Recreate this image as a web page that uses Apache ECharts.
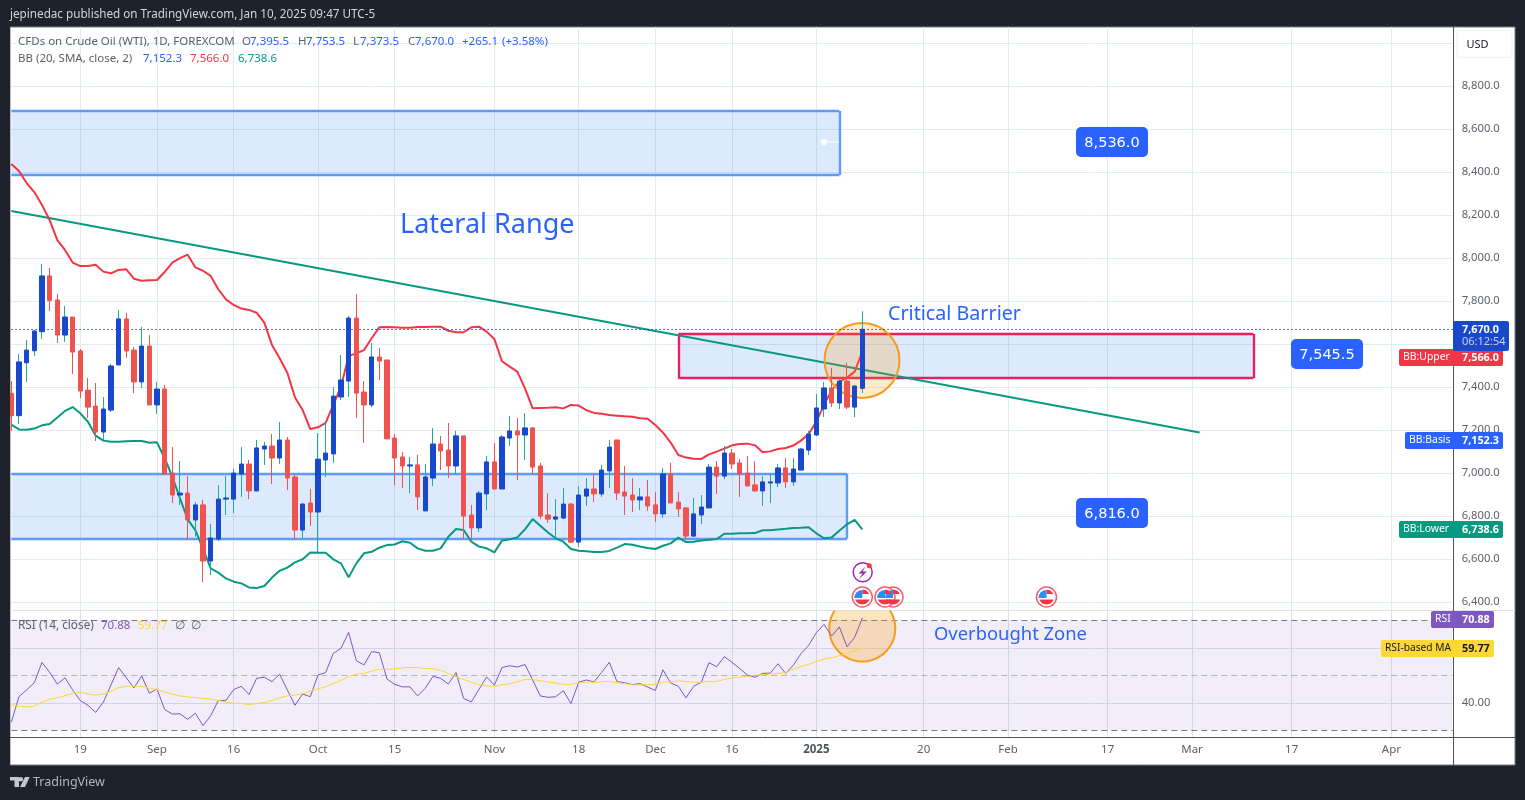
<!DOCTYPE html>
<html>
<head>
<meta charset="utf-8">
<title>WTI</title>
<style>
  html, body { margin: 0; padding: 0; background: #1e222d; }
  #chart { width: 1525px; height: 800px; }
</style>
<script src="https://cdn.jsdelivr.net/npm/echarts@6/dist/echarts.min.js"></script>
</head>
<body>
<div id="chart"></div>
<script>
// daily candles
const opens = [
  7372,7268,7514,7570,7659,7918,7806,7643,7727,7569,
  7387,7313,7192,7294,7504,7718,7573,7425,7592,7318,
  7392,7001,6899,6908,6783,6853,6592,6694,6880,6880,
  6997,7043,6918,7113,7127,7071,7155,6983,6736,6862,
  6820,7062,7090,7355,7429,7722,7378,7318,7541,7527,
  7164,7076,7034,7039,6825,6978,7136,7108,7034,7174,
  6806,6746,6904,7053,6927,7164,7197,7178,7211,7034,
  6806,6787,6792,6857,6680,6894,6927,6904,7011,7155,
  6913,6899,6876,6890,6853,6811,6997,6866,6839,6708,
  6806,6839,7029,6987,7094,7048,7001,6946,6918,6955,
  6955,7025,6960,7015,7108,7178,7299,7397,7327,7429,
  7308,7395.5
];
const closes = [
  7268,7518,7573,7662,7918,7803,7643,7727,7564,7383,
  7308,7192,7299,7499,7718,7569,7425,7592,7318,7392,
  6997,6899,6908,6783,6853,6592,6699,6880,6885,7001,
  7043,6918,7118,7127,7071,7155,6978,6736,6857,6820,
  7066,7094,7359,7434,7722,7373,7318,7541,7522,7160,
  7071,7034,7039,6890,6983,7136,7104,7034,7174,6801,
  6746,6908,7053,6927,7169,7197,7178,7211,7029,6801,
  6787,6797,6857,6680,6899,6927,6904,7015,7122,6908,
  6894,6876,6890,6848,6811,6997,6862,6834,6708,6811,
  6843,7029,6987,7094,7043,6997,6941,6918,6960,6960,
  7025,6960,7020,7113,7183,7304,7397,7327,7429,7308,
  7406,7670
];
const highs = [
  7429,7555,7620,7666,7973,7955,7834,7778,7727,7578,
  7443,7420,7355,7508,7760,7746,7587,7680,7643,7425,
  7411,7122,7057,6987,6866,6876,6764,6945,6987,7020,
  7122,7062,7155,7146,7183,7239,7169,6997,6862,6927,
  7187,7239,7401,7550,7732,7834,7429,7606,7583,7527,
  7183,7099,7076,7085,7043,7211,7173,7234,7197,7174,
  6853,6918,7080,7141,7178,7267,7257,7280,7215,7048,
  6908,6880,6932,6862,6941,6978,6997,7039,7155,7155,
  7034,6978,6932,6969,6913,7025,7048,6913,6843,6885,
  6899,7043,7057,7127,7113,7066,7080,7057,6987,6997,
  7043,7071,7071,7118,7197,7369,7425,7490,7437,7513,
  7411,7753.5
];
const lows = [
  7197,7229,7425,7546,7625,7755,7606,7611,7462,7350,
  7257,7150,7155,7285,7504,7536,7373,7397,7318,7276,
  6992,6862,6852,6690,6705,6494,6527,6685,6806,6815,
  6890,6880,6918,7039,6950,7043,6922,6690,6699,6755,
  6634,6983,7048,7341,7355,7257,7141,7308,7434,7160,
  6945,6932,6908,6829,6825,6941,7015,6978,6997,6694,
  6680,6727,6829,6927,6927,7127,6969,7062,6997,6787,
  6769,6694,6787,6676,6657,6848,6866,6890,6932,6876,
  6806,6820,6829,6825,6773,6792,6862,6797,6694,6704,
  6764,6839,6904,6973,7020,6890,6941,6913,6848,6862,
  6936,6932,6941,7015,7085,7173,7262,7308,7299,7299,
  7262,7373.5
];
// bollinger bands
const bbUpper = [
  8439,8406,8350,8308,8248,8178,8085,8039,7980,7964,
  7964,7970,7938,7930,7946,7949,7905,7896,7898,7899,
  7936,7980,8001,8017,7958,7942,7918,7856,7809,7783,
  7766,7760,7747,7701,7597,7535,7468,7353,7294,7206,
  7214,7235,7318,7403,7546,7558,7573,7628,7679,7680,
  7679,7677,7677,7680,7680,7682,7682,7663,7656,7656,
  7679,7682,7659,7625,7521,7496,7473,7395,7302,7304,
  7305,7307,7302,7318,7315,7294,7281,7277,7271,7268,
  7265,7263,7256,7254,7225,7189,7143,7085,7073,7068,
  7067,7088,7101,7115,7130,7136,7138,7130,7098,7102,
  7113,7118,7129,7152,7183,7240,7318,7387,7426,7445,
  7473,7566
];
const bbLower = [
  7226,7204,7203,7208,7223,7229,7260,7290,7308,7279,
  7240,7175,7152,7147,7147,7149,7150,7150,7142,7144,
  7070,6984,6884,6786,6736,6651,6558,6538,6511,6496,
  6488,6469,6466,6476,6515,6547,6561,6586,6600,6632,
  6631,6631,6600,6581,6516,6581,6628,6635,6654,6666,
  6669,6684,6677,6651,6640,6640,6651,6705,6741,6736,
  6682,6659,6651,6632,6687,6693,6702,6739,6787,6756,
  6725,6698,6682,6648,6640,6637,6634,6634,6639,6654,
  6671,6668,6660,6653,6648,6663,6674,6701,6680,6682,
  6687,6691,6694,6719,6719,6721,6721,6722,6735,6735,
  6739,6742,6746,6747,6749,6721,6698,6702,6733,6763,
  6783,6739
];
// RSI pane
const rsiLine = [
  32.9,42.2,44.7,47.3,54.7,51.1,46.8,49.1,44.7,40.8,
  39.1,36.5,40.2,46.5,52.8,49.1,45.4,49.8,43.5,45,
  37.6,35.9,36,34,36.2,31.7,35.3,40.8,40.9,44.8,
  46,43,48.9,49.3,47.7,50.4,44.7,39.1,43.2,42.2,
  50.1,51,58,59.8,65.6,55.3,53.8,58.6,58.2,48.7,
  46.7,45.8,45.8,42.5,45.3,49.6,48.9,46.8,51,41.6,
  40.3,44.9,49.4,46.4,52.8,53.5,53,53.9,48.3,42.5,
  42,42.2,44.4,39.7,47.5,48.3,47.6,51.1,54.7,47.7,
  47.3,46.6,47,45.7,44.5,52,47.2,46,41.8,46,
  47.5,54.6,53.1,56.8,54.7,52.5,50.1,49.3,50.7,50.8,
  54.2,50.7,53.7,57.9,60.9,65.5,68.5,64.3,67.6,60.4,
  63.8,70.88
];
const rsiMa = [
  39.3,38.8,38.5,38.8,40.2,41.3,41.8,42.6,43.5,43.8,
  43.2,42.8,43.2,44.1,45.5,46,46.1,46,45.3,44.9,
  43.9,43.1,42.5,42.1,41.9,41.6,41.3,40.9,40.2,39.8,
  39.8,39.3,39.7,40.1,40.8,41.8,42.5,42.8,43.3,44.2,
  45.1,45.8,47,48.1,49.5,50.4,50.7,51.5,52.2,52.2,
  52.3,52.7,52.9,52.8,52.5,52.4,51.8,50.7,49.5,48.5,
  47.5,46.6,46.1,46,46.5,47,47.6,48.5,48.5,48,
  47.6,47.2,46.7,46.7,47.2,47.5,47.5,47.6,47.8,47.3,
  47,46.5,46.5,46.6,46.7,47.5,47.6,48,47.7,47.5,
  47.5,47.7,47.7,48.5,49,49.4,49.5,50.1,50.2,50.4,
  50.7,51,52.2,53.2,54,55,55.9,56.4,57.1,58,
  59,59.77
];
// time axis: bar index of every tick and its label
const tickIndexes = [9,19,29,40,50,63,74,84,94,105,119,130,143,154,167,180];
const tickLabels = ['19','Sep','16','Oct','15','Nov','18','Dec','16','2025','20','Feb','17','Mar','17','Apr'];
const barCount = 189;
const categories = Array.from({ length: barCount }, (_, i) => i);
const priceTicks = [9000,8800,8600,8400,8200,8000,7800,7600,7400,7200,7000,6800,6600,6400];
const priceLabels = [8800,8600,8400,8200,8000,7800,7400,7200,7000,6800,6600,6400];
const lastPrice = 7670;
// drawn zones [price top, price bottom, bar from, bar to]
const rangeTop = [8685, 8387, 0, 108];
const rangeBottom = [6998, 6696, 0, 109];
const barrierZone = [7648, 7443, 87, 162];
const trendLine = [[0, 8220], [155, 7190]];

const FONT = '"Noto Sans", sans-serif';
const BLUE = '#2962ff', RED = '#f23645', TEAL = '#089981', PURPLE = '#7e57c2', YELLOW = '#fdd835';
const BODY_UP = '#1848cc', BODY_DOWN = '#ef5350', WICK_UP = '#22ab94';
const GRID = '#e1ecf2', TXT = '#5d606b';

function text(x, y, str, color, size, extra) {
  return {
    type: 'text', z: 30, x, y,
    style: Object.assign({ text: str, fill: color, font: size + 'px ' + FONT, textVerticalAlign: 'middle' }, extra || {})
  };
}
function box(x, y, w, h, color, r) {
  return { type: 'rect', z: 28, shape: { x, y, width: w, height: h, r: r || 0 }, style: { fill: color } };
}
function sideTag(left, right, top, bottom, color, name, value, textColor, nameSize) {
  const mid = (top + bottom) / 2;
  return [
    box(left, top, right - left, bottom - top, color, 2),
    text(left + 4, mid, name, textColor, nameSize || 10.4),
    text(1462, mid, value, textColor, 11, { font: 'bold 10.8px ' + FONT })
  ];
}
function callout(x, y, w, h, value) {
  return [
    box(x, y, w, h, BLUE, 5),
    text(x + w / 2, y + h / 2 + 1.5, value, '#ffffff', 15, { textAlign: 'center', font: '14.5px "DejaVu Sans"' })
  ];
}
// part of a disc between two heights, for the flag stripes
function discBand(cx, cy, r, y1, y2, fromX) {
  const pts = [];
  for (let k = 0; k <= 12; k++) {
    const y = y1 + (y2 - y1) * k / 12;
    pts.push([cx + Math.sqrt(Math.max(r * r - (y - cy) * (y - cy), 0)), y]);
  }
  for (let k = 12; k >= 0; k--) {
    const y = y1 + (y2 - y1) * k / 12;
    const dx = Math.sqrt(Math.max(r * r - (y - cy) * (y - cy), 0));
    pts.push([fromX === undefined ? cx - dx : fromX, y]);
  }
  return { type: 'polygon', z: 27, shape: { points: pts }, style: { fill: '#f23645' } };
}
function flag(cx, cy) {
  return [
    { type: 'circle', z: 26, shape: { cx, cy, r: 10 }, style: { fill: '#fff', stroke: '#f5606e', lineWidth: 1.5 } },
    discBand(cx, cy, 7.5, cy - 7.5, cy - 3, cx),
    discBand(cx, cy, 7.5, cy + 2.5, cy + 7.5),
    { type: 'sector', z: 27, shape: { cx, cy: cy + 1, r: 8, startAngle: Math.PI, endAngle: Math.PI * 1.5 }, style: { fill: '#2c8ff0' } }
  ];
}
// circle cut by the pane top: fill and open arc
function cutCircle(cx, cy, r, topY) {
  const a = Math.asin((cy - topY) / r);
  const pts = [];
  for (let k = 0; k <= 60; k++) {
    const t = -a + (Math.PI + 2 * a) * k / 60;
    pts.push([cx + r * Math.cos(t), cy + r * Math.sin(t)]);
  }
  return [
    { type: 'polygon', z: 3, shape: { points: pts }, style: { fill: 'rgba(255,152,0,0.25)' } },
    { type: 'polyline', z: 3, shape: { points: pts }, style: { fill: 'none', stroke: '#f59c1a', lineWidth: 2 } }
  ];
}

const legendRow1 = [
  [18, 'CFDs on Crude Oil (WTI), 1D, FOREXCOM', TXT],
  [242, 'O', TXT], [250, '7,395.5', BLUE], [298, 'H', TXT], [306, '7,753.5', BLUE],
  [353, 'L', TXT], [360, '7,373.5', BLUE], [408, 'C', TXT], [415, '7,670.0', BLUE],
  [462, '+265.1', BLUE], [502, '(+3.58%)', BLUE]
];
const legendRow2 = [
  [18, 'BB (20, SMA, close, 2)', TXT],
  [143, '7,152.3', BLUE], [190, '7,566.0', RED], [238, '6,738.6', TEAL]
];

const graphics = [
  { type: 'rect', z: -1, shape: { x: 10, y: 27, width: 1505, height: 738 }, style: { fill: '#ffffff', stroke: '#787b86', lineWidth: 1 } },
  // dark strip that cuts the first candle at the pane edge
  { type: 'rect', z: 20, shape: { x: 0, y: 27, width: 10, height: 738 }, style: { fill: '#1e222d' } },
  // axis frame
  { type: 'line', z: 21, shape: { x1: 1453.5, y1: 27, x2: 1453.5, y2: 765 }, style: { stroke: '#50535e', lineWidth: 1 } },
  { type: 'line', z: 21, shape: { x1: 10, y1: 737.5, x2: 1515, y2: 737.5 }, style: { stroke: '#50535e', lineWidth: 1 } },
  { type: 'line', z: 2, shape: { x1: 10, y1: 610.5, x2: 1515, y2: 610.5 }, style: { stroke: '#e0e3eb', lineWidth: 1 } },
  // header and logo
  text(10, 15, 'jepinedac published on TradingView.com, Jan 10, 2025 09:47 UTC-5', '#d1d4dc', 11.7),
  { type: 'rect', z: 30, shape: { x: 10, y: 777, width: 9, height: 3.5 }, style: { fill: '#c4c7cf' } },
  { type: 'rect', z: 30, shape: { x: 14.5, y: 777, width: 4.5, height: 10 }, style: { fill: '#c4c7cf' } },
  { type: 'circle', z: 30, shape: { cx: 20.8, cy: 779.3, r: 2.3 }, style: { fill: '#c4c7cf' } },
  { type: 'polygon', z: 30, shape: { points: [[25, 777], [29.7, 777], [25, 787], [20, 787]] }, style: { fill: '#c4c7cf' } },
  text(33, 782.5, 'TradingView', '#b2b5be', 12.5),
  // USD button
  { type: 'rect', z: 30, shape: { x: 1457, y: 30.5, width: 55, height: 27, r: 4 }, style: { fill: '#fff', stroke: '#eef0f5', lineWidth: 1 } },
  text(1466.5, 45, 'USD', '#131722', 11),
  // annotations
  text(400, 225, 'Lateral Range', BLUE, 27),
  text(888, 314, 'Critical Barrier', BLUE, 19.7),
  text(934, 635, 'Overbought Zone', BLUE, 18.4),
  { type: 'line', z: 4, shape: { x1: 824, y1: 142, x2: 839, y2: 142 }, style: { stroke: '#ffffff', lineWidth: 1 } },
  { type: 'circle', z: 4, shape: { cx: 824, cy: 142, r: 3 }, style: { fill: '#ffffff' } },
  // circles
  { type: 'circle', z: 3, shape: { cx: 862, cy: 360.5, r: 37.5 }, style: { fill: 'rgba(255,152,0,0.2)', stroke: '#f59c1a', lineWidth: 2 } },
  ...cutCircle(862.3, 628.5, 33, 610.5),
  // event icons
  { type: 'circle', z: 26, shape: { cx: 862.7, cy: 572.3, r: 9.5 }, style: { fill: '#fff', stroke: '#9c27b0', lineWidth: 1.5 } },
  { type: 'polygon', z: 27, shape: { points: [[866, 566], [858.5, 573.5], [862.5, 573.5], [859, 579], [867, 571.5], [862.5, 571.5]] }, style: { fill: '#9c27b0' } },
  { type: 'circle', z: 27, shape: { cx: 869.3, cy: 565.7, r: 2.5 }, style: { fill: RED } },
  ...flag(862.3, 597), ...flag(893, 597), ...flag(885, 597), ...flag(1046.5, 597),
  // callouts
  ...callout(1076, 127, 72, 30, '8,536.0'),
  ...callout(1291, 339, 72, 30, '7,545.5'),
  ...callout(1076, 498, 72, 30, '6,816.0'),
  // price tags
  ...sideTag(1399, 1503, 349, 366, RED, 'BB:Upper', '7,566.0', '#fff'),
  ...sideTag(1405, 1503, 432, 449, BLUE, 'BB:Basis', '7,152.3', '#fff'),
  ...sideTag(1399, 1503, 521, 538, TEAL, 'BB:Lower', '6,738.6', '#fff'),
  ...sideTag(1431, 1494, 611, 628, PURPLE, 'RSI', '70.88', '#fff'),
  ...sideTag(1381, 1494, 640, 657, YELLOW, 'RSI-based MA', '59.77', '#131722', 10.2),
  box(1453, 321, 56, 30, BODY_UP, 2),
  text(1462, 329.5, '7,670.0', '#fff', 11, { font: 'bold 10.8px ' + FONT }),
  text(1462, 342, '06:12:54', '#c5d0f0', 11),
  // pane legends
  ...legendRow1.map(r => text(r[0], 41.5, r[1], r[2], 11.5)),
  ...legendRow2.map(r => text(r[0], 59, r[1], r[2], 11.5)),
  text(18, 625.5, 'RSI (14, close)', TXT, 11.8),
  text(101, 625.5, '70.88', PURPLE, 11.5),
  text(138, 625.5, '59.77', YELLOW, 11.5),
  text(175, 625.5, '∅', TXT, 11.5),
  text(191, 625.5, '∅', TXT, 11.5)
];

const showTick = index => tickIndexes.includes(index);

const option = {
  animation: false,
  backgroundColor: '#1e222d',
  graphic: graphics,
  grid: [
    { left: 11.3, right: 72.3, top: 27, height: 583, containLabel: false },
    { left: 11.3, right: 72.3, top: 610, height: 127, containLabel: false }
  ],
  xAxis: [
    {
      type: 'category', gridIndex: 0, data: categories, boundaryGap: false,
      axisLine: { show: false }, axisTick: { show: false }, axisLabel: { show: false },
      splitLine: { show: true, interval: showTick, lineStyle: { color: GRID } }
    },
    {
      type: 'category', gridIndex: 1, data: categories, boundaryGap: false,
      axisLine: { show: false }, axisTick: { show: false },
      axisLabel: {
        show: true, interval: showTick, margin: 7,
        formatter: (v) => {
          const k = tickIndexes.indexOf(Number(v));
          if (k < 0) return '';
          return tickLabels[k] === '2025' ? '{bold|2025}' : tickLabels[k];
        },
        color: TXT, fontSize: 11.5, fontFamily: FONT,
        rich: { bold: { fontWeight: 'bold', fontSize: 11.5, color: '#50535e', fontFamily: FONT } }
      },
      splitLine: { show: true, interval: showTick, lineStyle: { color: '#dde3ee' } }
    }
  ],
  yAxis: [
    {
      type: 'value', gridIndex: 0, position: 'right', scale: true,
      min: 6364.2, max: 9075.8,
      axisLine: { show: false },
      axisTick: { show: false, customValues: priceTicks },
      axisLabel: {
        show: true, margin: 9, customValues: priceLabels, color: TXT, fontSize: 11.2, fontFamily: FONT,
        padding: [0, 0, 3, 0],
        formatter: v => v.toLocaleString('en-US', { minimumFractionDigits: 1 })
      },
      splitLine: { show: true, lineStyle: { color: GRID } }
    },
    {
      type: 'value', gridIndex: 1, position: 'right',
      min: 27.56, max: 73.75,
      axisLine: { show: false },
      axisTick: { show: false, customValues: [40, 60] },
      axisLabel: {
        show: true, margin: 9, customValues: [40], color: TXT, fontSize: 11.2, fontFamily: FONT,
        padding: [0, 0, 3, 0],
        formatter: v => v.toFixed(2)
      },
      splitLine: { show: true, lineStyle: { color: '#dde3ee' } }
    }
  ],
  series: [
    {
      name: 'zones', type: 'line', xAxisIndex: 0, yAxisIndex: 0, data: [], z: 1,
      markArea: {
        silent: true, z: 1,
        itemStyle: { color: 'rgba(30,110,235,0.15)' },
        data: [rangeTop, rangeBottom, barrierZone].map(a => [
          { xAxis: a[2], yAxis: a[0] },
          { xAxis: a[3], yAxis: a[1] }
        ])
      },
      markLine: {
        silent: true, z: 1, symbol: 'none', label: { show: false },
        lineStyle: { color: '#5e9cf5', width: 2.4, type: 'solid' },
        data: [rangeTop, rangeBottom].flatMap(a => [
          [{ xAxis: a[2], yAxis: a[0] }, { xAxis: a[3], yAxis: a[0] }],
          [{ xAxis: a[2], yAxis: a[1] }, { xAxis: a[3], yAxis: a[1] }],
          [{ xAxis: a[3], yAxis: a[0] }, { xAxis: a[3], yAxis: a[1] }]
        ]).concat([
          [[0, 0], [1, 0]], [[1, 0], [1, 1]], [[0, 1], [1, 1]], [[0, 0], [0, 1]]
        ].map(s => [
          { xAxis: barrierZone[2 + s[0][0]], yAxis: barrierZone[s[0][1]], lineStyle: { color: '#e91e63', width: 2.4, type: 'solid' } },
          { xAxis: barrierZone[2 + s[1][0]], yAxis: barrierZone[s[1][1]] }
        ]))
      }
    },
    {
      name: 'trend', type: 'line', xAxisIndex: 0, yAxisIndex: 0, z: 2, data: trendLine,
      symbol: 'none', lineStyle: { color: TEAL, width: 2 }, silent: true
    },
    {
      name: 'BB upper', type: 'line', xAxisIndex: 0, yAxisIndex: 0, z: 2, data: bbUpper,
      symbol: 'none', lineStyle: { color: RED, width: 2 }, silent: true
    },
    {
      name: 'BB lower', type: 'line', xAxisIndex: 0, yAxisIndex: 0, z: 2, data: bbLower,
      symbol: 'none', lineStyle: { color: TEAL, width: 2 }, silent: true
    },
    {
      // wicks
      name: 'wicks', type: 'candlestick', xAxisIndex: 0, yAxisIndex: 0, z: 5, clip: false, barWidth: 1,
      data: opens.map((o, i) => [o, closes[i], lows[i], highs[i]]),
      itemStyle: { color: WICK_UP, color0: BODY_DOWN, borderColor: WICK_UP, borderColor0: BODY_DOWN, borderWidth: 1 },
      markLine: {
        silent: true, symbol: 'none', label: { show: false }, z: 5,
        lineStyle: { color: BODY_UP, type: [1.5, 2.5], width: 1 },
        data: [{ yAxis: lastPrice }]
      }
    },
    {
      // bodies on top, no wick
      name: 'bodies', type: 'candlestick', xAxisIndex: 0, yAxisIndex: 0, z: 6, clip: false, barWidth: 5,
      data: opens.map((o, i) => [o, closes[i], Math.min(o, closes[i]), Math.max(o, closes[i])]),
      itemStyle: { color: BODY_UP, color0: BODY_DOWN, borderColor: BODY_UP, borderColor0: BODY_DOWN, borderWidth: 1 }
    },
    {
      name: 'RSI', type: 'line', xAxisIndex: 1, yAxisIndex: 1, z: 4, data: rsiLine,
      symbol: 'none', lineStyle: { color: PURPLE, width: 1 }, silent: true,
      markArea: {
        silent: true, z: 1,
        itemStyle: { color: 'rgba(126,87,194,0.1)' },
        data: [[{ yAxis: 70 }, { yAxis: 30 }]]
      },
      markLine: {
        silent: true, symbol: 'none', label: { show: false }, z: 2,
        lineStyle: { color: '#787b86', type: [6, 4], width: 1 },
        data: [
          { yAxis: 70 },
          { yAxis: 50, lineStyle: { color: 'rgba(120,123,134,0.5)' } },
          { yAxis: 30 }
        ]
      }
    },
    {
      name: 'RSI MA', type: 'line', xAxisIndex: 1, yAxisIndex: 1, z: 4, data: rsiMa,
      symbol: 'none', lineStyle: { color: YELLOW, width: 1 }, silent: true
    }
  ]
};

const chart = echarts.init(document.getElementById('chart'), null, { renderer: 'canvas' });
chart.setOption(option);
</script>
</body>
</html>
